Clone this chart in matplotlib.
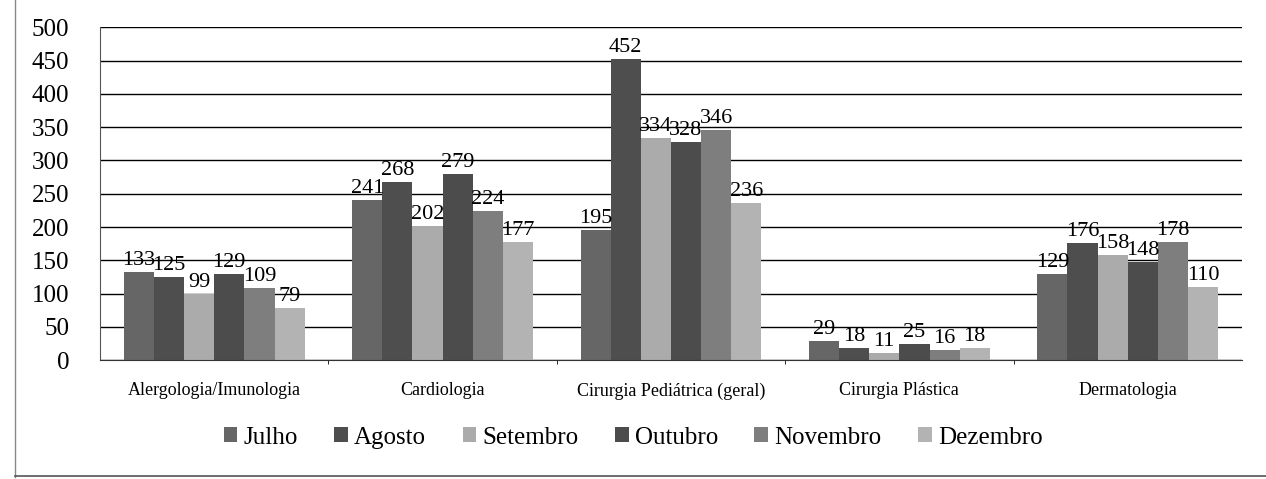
import matplotlib.pyplot as plt
import numpy as np

plt.rcParams['font.family'] = ['Liberation Serif', 'DejaVu Serif']

especialidades = ['Alergologia/Imunologia', 'Cardiologia', 'Cirurgia Pediátrica (geral)',
                  'Cirurgia Plástica', 'Dermatologia']
meses = ['Julho', 'Agosto', 'Setembro', 'Outubro', 'Novembro', 'Dezembro']
julho = [133, 241, 195, 29, 129]
agosto = [125, 268, 452, 18, 176]
setembro = [99, 202, 334, 11, 158]
outubro = [129, 279, 328, 25, 148]
novembro = [109, 224, 346, 16, 178]
dezembro = [79, 177, 236, 18, 110]
series = [julho, agosto, setembro, outubro, novembro, dezembro]
cores = ['#666666', '#4e4e4e', '#ababab', '#4c4c4c', '#7e7e7e', '#b3b3b3']

fig = plt.figure(figsize=(12.66, 4.79), dpi=100)
ax = fig.add_axes([0.079, 0.248, 0.902, 0.695])

x = np.arange(len(especialidades))
w = 0.132
for i, (s, c) in enumerate(zip(series, cores)):
    pos = x + (i - 2.5) * w
    ax.bar(pos, s, width=w, color=c, label=meses[i], zorder=2, linewidth=0)
    for p, v in zip(pos, s):
        ax.text(p, v + 3, str(v), ha='center', va='bottom', fontsize=16, zorder=3)

ax.set_ylim(0, 500)
ax.set_xlim(-0.5, len(especialidades) - 0.5)
ax.set_yticks(np.arange(0, 501, 50))
ax.tick_params(axis='y', labelsize=18, length=0, pad=22)
ax.set_xticks(x)
ax.set_xticklabels(especialidades, fontsize=13)
ax.tick_params(axis='x', length=0, pad=16)
ax.set_xticks(np.arange(0.5, len(especialidades) - 1, 1), minor=True)
ax.tick_params(axis='x', which='minor', length=3, direction='out')
ax.yaxis.grid(True, color='black', linewidth=1, zorder=0)
ax.set_axisbelow(True)
for sp in ['top', 'right']:
    ax.spines[sp].set_visible(False)
ax.spines['left'].set_color('#555555')
ax.spines['bottom'].set_color('#333333')

leg = fig.legend(*ax.get_legend_handles_labels(), loc='center', bbox_to_anchor=(0.5, 0.086),
                 ncol=6, frameon=False, fontsize=18, handlelength=0.55, handleheight=0.55,
                 handletextpad=0.25, columnspacing=1.45)

fig.add_artist(plt.Line2D([0.012, 0.012], [0.005, 1.0], color='#888888', linewidth=1))
fig.add_artist(plt.Line2D([0.012, 1.0], [0.006, 0.006], color='#555555', linewidth=1.2))

fig.savefig('out.png', dpi=100)
